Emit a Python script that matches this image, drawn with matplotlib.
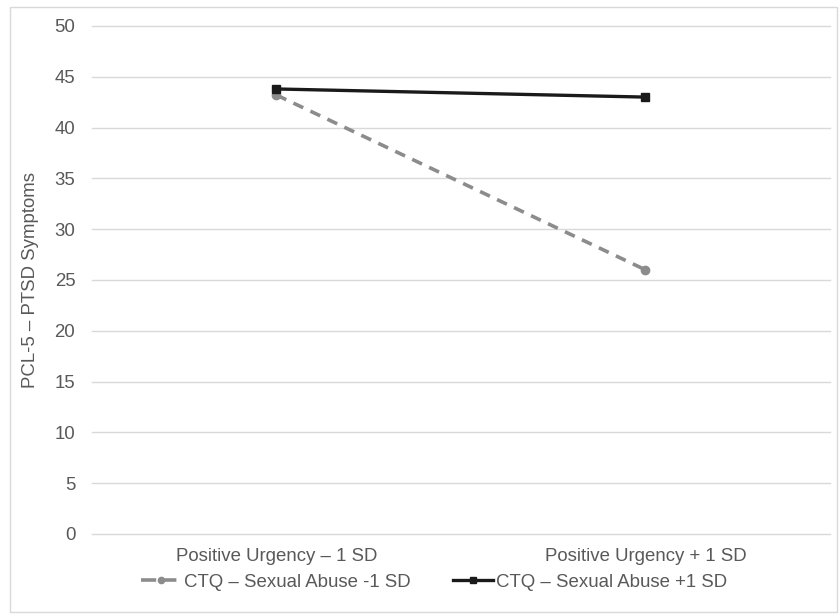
import matplotlib
matplotlib.use("Agg")
import matplotlib.pyplot as plt
from matplotlib.patches import Rectangle

plt.rcParams['font.family'] = ['Liberation Sans', 'DejaVu Sans']

# data
categories = ['Positive Urgency – 1 SD', 'Positive Urgency + 1 SD']
low_abuse = [43.2, 26.0]    # CTQ - Sexual Abuse -1 SD
high_abuse = [43.8, 43.0]   # CTQ - Sexual Abuse +1 SD
yticks = [0, 5, 10, 15, 20, 25, 30, 35, 40, 45, 50]

fig = plt.figure(figsize=(8.4, 6.14), dpi=100)
ax = fig.add_axes([0.1095, 0.1303, 0.8785, 0.8274])

x = list(range(len(categories)))
ax.plot(x, low_abuse, color='#8c8c8c', lw=2.6, ls=(0, (3, 2.2)),
        marker='o', ms=6, label='CTQ – Sexual Abuse -1 SD')
ax.plot(x, high_abuse, color='#1a1a1a', lw=2.4, ls='-',
        marker='s', ms=6, label='CTQ – Sexual Abuse +1 SD')

ax.set_xlim(-0.5, 1.5)
ax.set_ylim(0, 50)
ax.set_xticks(x)
ax.set_xticklabels(categories)
ax.set_yticks(yticks)
ax.tick_params(length=0, colors='#595959', labelsize=13.4, pad=12)
ax.tick_params(axis='x', pad=10)
ax.grid(axis='y', color='#d9d9d9', lw=1)
for gl in ax.get_ygridlines():
    gl.set_clip_on(False)
ax.set_axisbelow(True)
for s in ax.spines.values():
    s.set_visible(False)
ax.set_ylabel('PCL-5 – PTSD Symptoms', color='#595959', fontsize=13.4, labelpad=11)

leg = fig.legend(loc='center', bbox_to_anchor=(0.5167, 0.052), ncol=2, frameon=False,
                 fontsize=13.4, handlelength=2.15, handletextpad=0.15, columnspacing=2.25,
                 markerscale=0.75)
for t in leg.get_texts():
    t.set_color('#595959')
# short dash - dot - dash look for the legend swatch
leg.get_lines()[0].set_linestyle((0, (4.2, 1.4)))

# outer chart border
fig.patches.append(Rectangle((0.012, 0.004), 0.985, 0.985, transform=fig.transFigure,
                             fill=False, ec='#d9d9d9', lw=1))

fig.savefig('out.png', dpi=100)
